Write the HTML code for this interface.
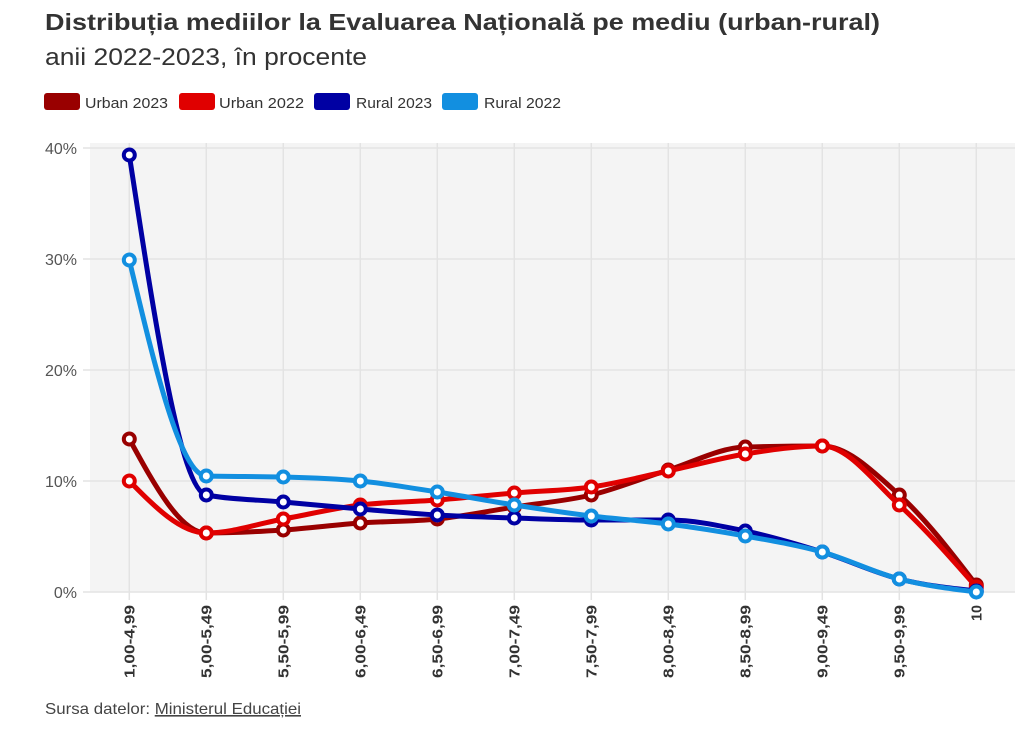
<!DOCTYPE html>
<html><head><meta charset="utf-8"><style>
html,body{margin:0;padding:0;background:#fff;}
svg{display:block;}
text{font-family:"Liberation Sans",sans-serif;}
</style></head><body>
<svg id="c" width="1024" height="730" viewBox="0 0 1024 730" xmlns="http://www.w3.org/2000/svg">
<rect width="1024" height="730" fill="#fff"/>
<text x="45" y="30" font-size="23" font-weight="bold" fill="#333" textLength="835" lengthAdjust="spacingAndGlyphs">Distribuția mediilor la Evaluarea Națională pe mediu (urban-rural)</text>
<text x="45" y="65" font-size="24" fill="#333" textLength="322" lengthAdjust="spacingAndGlyphs">anii 2022-2023, în procente</text>
<rect x="44" y="93" width="36" height="17" rx="3" fill="#990000"/>
<text x="85" y="108" font-size="15" fill="#333" textLength="83" lengthAdjust="spacingAndGlyphs">Urban 2023</text>
<rect x="179" y="93" width="36" height="17" rx="3" fill="#e00000"/>
<text x="219" y="108" font-size="15" fill="#333" textLength="85" lengthAdjust="spacingAndGlyphs">Urban 2022</text>
<rect x="314" y="93" width="36" height="17" rx="3" fill="#0000a3"/>
<text x="356" y="108" font-size="15" fill="#333" textLength="76" lengthAdjust="spacingAndGlyphs">Rural 2023</text>
<rect x="442" y="93" width="36" height="17" rx="3" fill="#128fe0"/>
<text x="484" y="108" font-size="15" fill="#333" textLength="77" lengthAdjust="spacingAndGlyphs">Rural 2022</text>
<rect x="90" y="143" width="925" height="449" fill="#f4f4f4"/>
<g id="grid" stroke="#e3e3e3" stroke-width="1.5"></g>
<g font-size="16" fill="#555" text-anchor="end">
<text x="77" y="154">40%</text>
<text x="77" y="265">30%</text>
<text x="77" y="376">20%</text>
<text x="77" y="487">10%</text>
<text x="77" y="598">0%</text>
</g>
<g font-size="15" font-weight="bold" fill="#333" text-anchor="end">
<text transform="translate(129.3,605) rotate(-90)" dy="0.36em" textLength="73" lengthAdjust="spacingAndGlyphs">1,00-4,99</text>
<text transform="translate(206.3,605) rotate(-90)" dy="0.36em" textLength="73" lengthAdjust="spacingAndGlyphs">5,00-5,49</text>
<text transform="translate(283.3,605) rotate(-90)" dy="0.36em" textLength="73" lengthAdjust="spacingAndGlyphs">5,50-5,99</text>
<text transform="translate(360.3,605) rotate(-90)" dy="0.36em" textLength="73" lengthAdjust="spacingAndGlyphs">6,00-6,49</text>
<text transform="translate(437.3,605) rotate(-90)" dy="0.36em" textLength="73" lengthAdjust="spacingAndGlyphs">6,50-6,99</text>
<text transform="translate(514.3,605) rotate(-90)" dy="0.36em" textLength="73" lengthAdjust="spacingAndGlyphs">7,00-7,49</text>
<text transform="translate(591.3,605) rotate(-90)" dy="0.36em" textLength="73" lengthAdjust="spacingAndGlyphs">7,50-7,99</text>
<text transform="translate(668.3,605) rotate(-90)" dy="0.36em" textLength="73" lengthAdjust="spacingAndGlyphs">8,00-8,49</text>
<text transform="translate(745.3,605) rotate(-90)" dy="0.36em" textLength="73" lengthAdjust="spacingAndGlyphs">8,50-8,99</text>
<text transform="translate(822.3,605) rotate(-90)" dy="0.36em" textLength="73" lengthAdjust="spacingAndGlyphs">9,00-9,49</text>
<text transform="translate(899.3,605) rotate(-90)" dy="0.36em" textLength="73" lengthAdjust="spacingAndGlyphs">9,50-9,99</text>
<text transform="translate(976.3,605) rotate(-90)" dy="0.36em" textLength="16" lengthAdjust="spacingAndGlyphs">10</text>
</g>
<g id="series"></g>
<text x="45" y="714" font-size="16" fill="#444" textLength="256" lengthAdjust="spacingAndGlyphs">Sursa datelor: <tspan text-decoration="underline">Ministerul Educației</tspan></text>
</svg>
<script>
(function(){
var NS="http://www.w3.org/2000/svg";
var xs=[];for(var i=0;i<12;i++)xs.push(129.3+77*i);
var grid=document.getElementById("grid");
function ln(x1,y1,x2,y2){var l=document.createElementNS(NS,"line");l.setAttribute("x1",x1);l.setAttribute("y1",y1);l.setAttribute("x2",x2);l.setAttribute("y2",y2);grid.appendChild(l);}
xs.forEach(function(x){ln(x,143,x,600);});
[148,259,370,481,592].forEach(function(y){ln(83,y,1015,y);});
var series=[
{c:"#990000",y:[439,533,530,523,519,507,495,470,447,446,495,585]},
{c:"#e00000",y:[481,533,519,505,500,493,487,471,454,446,505,587]},
{c:"#0000a3",y:[155,495,502,509,515,518,520,520,531,552,579,591]},
{c:"#128fe0",y:[260,476,477,481,492,505,516,524,536,552,579,592]}
];
function sign(v){return v<0?-1:1;}
function path(X,Y){
var n=X.length,s=[],m=[];
for(var i=0;i<n-1;i++)s.push((Y[i+1]-Y[i])/(X[i+1]-X[i]));
for(var i=1;i<n-1;i++){var h0=X[i]-X[i-1],h1=X[i+1]-X[i];var p=(s[i-1]*h1+s[i]*h0)/(h0+h1);
m[i]=(sign(s[i-1])+sign(s[i]))*Math.min(Math.abs(s[i-1]),Math.abs(s[i]),0.5*Math.abs(p))||0;}
m[0]=(3*s[0]-m[1])/2;m[n-1]=(3*s[n-2]-m[n-2])/2;
var d="M"+X[0]+","+Y[0];
for(var i=0;i<n-1;i++){var dx=(X[i+1]-X[i])/3;
d+="C"+(X[i]+dx)+","+(Y[i]+dx*m[i])+" "+(X[i+1]-dx)+","+(Y[i+1]-dx*m[i+1])+" "+X[i+1]+","+Y[i+1];}
return d;}
var g=document.getElementById("series");
series.forEach(function(sr){
var p=document.createElementNS(NS,"path");p.setAttribute("d",path(xs,sr.y));p.setAttribute("fill","none");p.setAttribute("stroke",sr.c);p.setAttribute("stroke-width","5");p.setAttribute("stroke-linejoin","round");p.setAttribute("stroke-linecap","round");g.appendChild(p);
sr.y.forEach(function(y,i){var c=document.createElementNS(NS,"circle");c.setAttribute("cx",xs[i]);c.setAttribute("cy",y);c.setAttribute("r","5.5");c.setAttribute("fill","#fff");c.setAttribute("stroke",sr.c);c.setAttribute("stroke-width","4");g.appendChild(c);});
});
})();
</script>
</body></html>
